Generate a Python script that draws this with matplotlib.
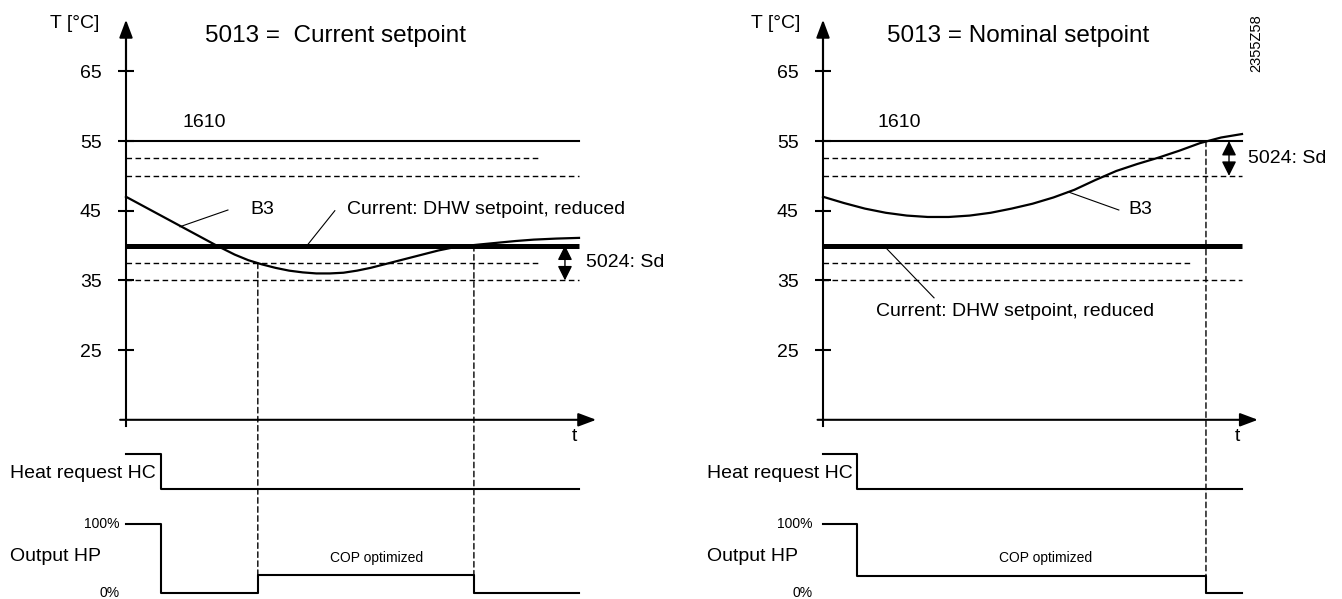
import matplotlib.pyplot as plt
from matplotlib.patches import ConnectionPatch

plt.rcParams['font.family'] = ['Liberation Sans', 'DejaVu Sans']

W, H = 1342, 599

# ---- data -------------------------------------------------------------
temp_ticks = [25, 35, 45, 55, 65]
limit_1610 = 55
limit_dashes = [52.5, 50]
reduced_sp = 40
reduced_dashes = [37.5, 35]
t_axis_level = 15

# left diagram: 5013 = Current setpoint
left_t = [0, 4, 8, 12, 16, 20, 24, 27, 30, 33, 36, 39, 42, 45, 48, 51, 54, 57,
          60, 63, 66, 69, 72, 75, 78, 82, 86, 90, 95, 100]
left_b3 = [47.0, 45.6, 44.2, 42.8, 41.4, 40.0, 38.7, 37.9, 37.3, 36.8, 36.4,
           36.15, 36.0, 36.0, 36.1, 36.4, 36.8, 37.3, 37.8, 38.3, 38.8, 39.3,
           39.7, 39.95, 40.15, 40.4, 40.65, 40.85, 41.0, 41.1]
left_heat_t = [0, 7.7, 100]
left_heat = [1, 0, 0]
left_out_t = [0, 7.7, 29.1, 76.8, 100]
left_out = [100, 0, 26, 0, 0]
left_switch = [(29.1, 37.5), (76.8, 40)]

# right diagram: 5013 = Nominal setpoint
right_t = [0, 5, 10, 15, 20, 25, 30, 35, 40, 45, 50, 55, 60, 65, 70, 75, 80,
           85, 90, 95, 100]
right_b3 = [47.0, 46.1, 45.3, 44.7, 44.3, 44.1, 44.1, 44.3, 44.7, 45.3, 46.0,
            46.9, 48.0, 49.4, 50.7, 51.7, 52.6, 53.6, 54.7, 55.5, 56.0]
right_heat_t = [0, 8.1, 100]
right_heat = [1, 0, 0]
right_out_t = [0, 8.1, 91.4, 100]
right_out = [100, 25, 0, 0]
right_switch = [(91.4, 55)]


def T_of(py):
    return 55 - (py - 141) / 6.97


def add_axes_px(x0, x1, y0, y1):
    ax = fig.add_axes([x0 / W, 1 - y1 / H, (x1 - x0) / W, (y1 - y0) / H])
    ax.patch.set_alpha(0)
    return ax


def draw_panel(bx0, bx1, origin, scale, b3_t, b3, heat_t, heat, out_t, out,
               switches, short_end, title, lbl_1610, b3_lbl, b3_lead, cur_lbl,
               cur_lead, sd_level, sig_lbl_x, pct_x, cop_x):
    xlim = ((bx0 - origin) / scale, (bx1 - origin) / scale)

    # temperature diagram
    ax = add_axes_px(bx0, bx1, 0, 440)
    ax.set_xlim(xlim)
    ax.set_ylim(T_of(440), T_of(0))
    for s in ['top', 'right', 'bottom']:
        ax.spines[s].set_visible(False)
    ax.spines['left'].set_position(('data', 0))
    ax.spines['left'].set_bounds(14.1, 70)
    ax.spines['left'].set_linewidth(1.5)
    ax.set_xticks([])
    ax.set_yticks(temp_ticks)
    ax.tick_params(axis='y', direction='inout', length=11, width=1.5,
                   labelsize=14, pad=12)
    arr = dict(arrowstyle='-|>,head_length=0.4,head_width=0.15', lw=1.5,
               color='black', mutation_scale=27, shrinkA=0, shrinkB=0)
    ax.annotate('', xy=(0, 72.4), xytext=(0, 65), arrowprops=arr)
    ax.annotate('', xy=(103.8, t_axis_level), xytext=(-1.3, t_axis_level),
                arrowprops=arr)

    dash = (0, (4, 2.5))
    ax.plot([0, 100], [limit_1610] * 2, color='black', lw=1.5)
    ax.plot([0, short_end], [limit_dashes[0]] * 2, color='black', lw=1.0, ls=dash)
    ax.plot([0, 100], [limit_dashes[1]] * 2, color='black', lw=1.0, ls=dash)
    ax.plot([0, 100], [reduced_sp] * 2, color='black', lw=3.6,
            solid_capstyle='butt')
    ax.plot([0, short_end], [reduced_dashes[0]] * 2, color='black', lw=1.0, ls=dash)
    ax.plot([0, 100], [reduced_dashes[1]] * 2, color='black', lw=1.0, ls=dash)
    ax.plot(b3_t, b3, color='black', lw=1.6, zorder=4)

    # switching differential 5024
    top, bot = sd_level
    ax.annotate('', xy=(96.9, bot), xytext=(96.9, top),
                arrowprops=dict(arrowstyle='<|-|>,head_length=0.4,head_width=0.2',
                                lw=1.0, color='black', mutation_scale=22,
                                shrinkA=0, shrinkB=0))
    ax.text(101.5, (top + bot) / 2, '5024: Sd', fontsize=14, va='center')

    ax.text(-11.3, 71.8, 'T [°C]', fontsize=14, ha='center', va='center')
    ax.text(title[0], 70.1, title[1], fontsize=17.5, va='center')
    ax.text(lbl_1610, 57.6, '1610', fontsize=14, va='center')
    ax.text(99.0, 12.6, 't', fontsize=14, ha='center', va='center')

    ax.plot([b3_lead[0], b3_lead[2]], [b3_lead[1], b3_lead[3]], color='black', lw=0.8)
    ax.text(b3_lbl[0], b3_lbl[1], 'B3', fontsize=14, va='center')
    ax.plot([cur_lead[0], cur_lead[2]], [cur_lead[1], cur_lead[3]], color='black', lw=0.8)
    ax.text(cur_lbl[0], cur_lbl[1], 'Current: DHW setpoint, reduced',
            fontsize=14, va='center')

    # heat request HC
    axh = add_axes_px(bx0, bx1, 440, 505)
    axh.set_xlim(xlim)
    axh.set_ylim((489 - 505) / 35, (489 - 440) / 35)
    axh.axis('off')
    axh.step(heat_t, heat, where='post', color='black', lw=1.5)
    axh.text(sig_lbl_x, 0.43, 'Heat request HC', fontsize=14, va='center')

    # output HP
    axo = add_axes_px(bx0, bx1, 505, 599)
    axo.set_xlim(xlim)
    axo.set_ylim((593 - 599) / 0.69, (593 - 505) / 0.69)
    axo.axis('off')
    axo.step(out_t, out, where='post', color='black', lw=1.5)
    axo.text(sig_lbl_x, 53.6, 'Output HP', fontsize=14, va='center')
    axo.text(pct_x, 100, '100%', fontsize=10, ha='right', va='center')
    axo.text(pct_x, 0, '0%', fontsize=10, ha='right', va='center')
    axo.text(cop_x, 50.7, 'COP optimized', fontsize=10, ha='center', va='center')

    for t, level in switches:
        con = ConnectionPatch(xyA=(t, level), coordsA=ax.transData,
                              xyB=(t, 0), coordsB=axo.transData,
                              color='black', lw=1.0, ls=(0, (4, 2.5)))
        fig.add_artist(con)
    return ax


fig = plt.figure(figsize=(W / 100, H / 100), dpi=100)

draw_panel(0, 671, 126, 4.53, left_t, left_b3, left_heat_t, left_heat,
           left_out_t, left_out, left_switch, 91,
           (17.4, '5013 =  Current setpoint'), 12.4,
           (27.4, 45.2), (11.9, 42.7, 22.5, 45.1),
           (48.8, 45.2), (40.2, 40.2, 46.1, 45.0),
           (reduced_sp, reduced_dashes[1]), -25.6, -1.5, 55.4)

axr = draw_panel(671, 1342, 823, 4.19, right_t, right_b3, right_heat_t, right_heat,
                 right_out_t, right_out, right_switch, 87.5,
                 (15.3, '5013 = Nominal setpoint'), 13.1,
                 (73.0, 45.2), (58.5, 47.7, 70.6, 45.1),
                 (12.6, 30.6), (14.8, 39.8, 26.5, 32.5),
                 (limit_1610, limit_dashes[1]), -27.7, -2.4, 53.2)
axr.text(103.3, 69.0, '2355Z58', fontsize=10.5, rotation=90,
         ha='center', va='center')

fig.savefig('out.png', dpi=100)
